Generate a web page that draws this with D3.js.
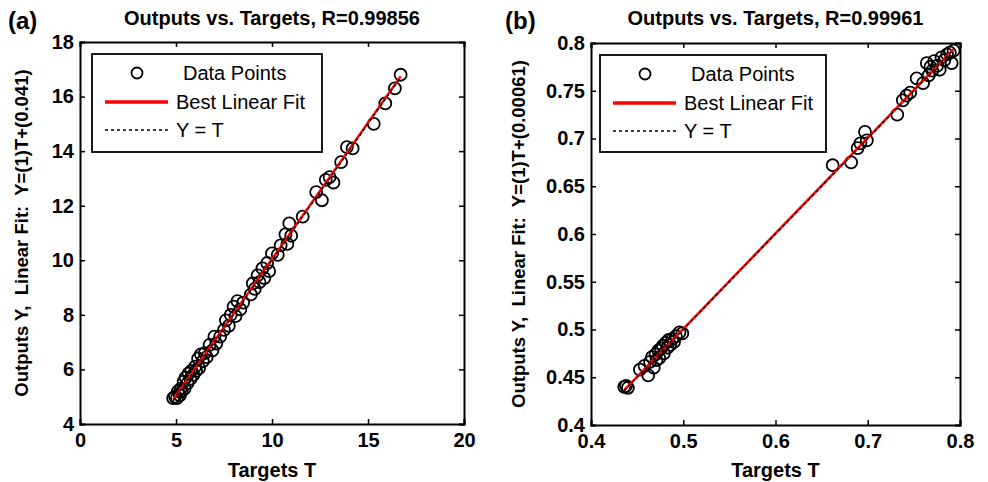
<!DOCTYPE html>
<html><head><meta charset="utf-8">
<script src="https://cdn.jsdelivr.net/npm/d3@7"></script>
<style>body{margin:0;background:#fff}svg{display:block}text{font-family:Arial,"Liberation Sans",sans-serif;fill:#000;white-space:pre}</style>
</head><body><svg id="c" width="988" height="482"></svg>
<script>
const targetsA=[4.85,4.95,5.05,5.1,5.2,5.25,5.3,5.4,5.45,5.5,5.6,5.65,5.75,5.8,5.9,6.0,6.05,6.15,6.2,6.3,6.4,6.5,6.6,6.75,6.9,7.0,7.1,7.3,7.5,7.6,7.75,7.85,8.0,8.1,8.2,8.35,8.5,8.9,9.0,9.1,9.25,9.35,9.5,9.6,9.75,9.85,10.0,10.3,10.45,10.7,10.8,10.9,11.0,11.6,12.3,12.6,12.8,13.0,13.2,13.6,13.9,14.2,15.3,15.9,16.4,16.7];
const outputsA=[4.95,5.0,4.95,5.2,5.05,5.3,5.2,5.55,5.3,5.7,5.5,5.85,5.65,5.95,5.8,6.1,5.95,6.4,6.05,6.55,6.3,6.6,6.45,6.9,6.7,7.2,6.95,7.2,7.45,7.8,7.6,8.0,8.3,7.95,8.5,8.2,8.45,8.75,9.15,8.95,9.45,9.2,9.7,9.35,9.9,9.6,10.25,10.2,10.55,10.95,10.6,11.35,10.9,11.6,12.5,12.2,12.95,13.05,12.85,13.6,14.15,14.1,15.0,15.75,16.3,16.8];
const targetsB=[0.436,0.438,0.440,0.453,0.458,0.462,0.464,0.466,0.468,0.470,0.471,0.473,0.474,0.476,0.478,0.479,0.481,0.483,0.484,0.486,0.488,0.490,0.492,0.496,0.499,0.662,0.682,0.689,0.692,0.697,0.699,0.732,0.738,0.742,0.746,0.753,0.760,0.764,0.766,0.768,0.770,0.772,0.775,0.778,0.780,0.783,0.786,0.789,0.791,0.793];
const outputsB=[0.440,0.441,0.439,0.458,0.462,0.452,0.466,0.471,0.460,0.474,0.468,0.478,0.470,0.480,0.483,0.475,0.486,0.481,0.489,0.484,0.490,0.487,0.493,0.497,0.496,0.672,0.675,0.690,0.695,0.707,0.698,0.725,0.740,0.745,0.748,0.763,0.758,0.779,0.766,0.775,0.771,0.781,0.776,0.772,0.785,0.782,0.788,0.790,0.779,0.792];
const xTicksA=[0,5,10,15,20], yTicksA=[4,6,8,10,12,14,16,18];
const xTicksB=[0.4,0.5,0.6,0.7,0.8], yTicksB=[0.4,0.45,0.5,0.55,0.6,0.65,0.7,0.75,0.8];
const legendLabels=["Data Points","Best Linear Fit","Y = T"];

const panels=[
 {tag:"(a)",title:"Outputs vs. Targets, R=0.99856",ylab:"Outputs Y,  Linear Fit:  Y=(1)T+(0.041)",
  T:targetsA,Y:outputsA,m:1,b:0.041,xd:[0,20],yd:[4,18],xt:xTicksA,yt:yTicksA,
  box:{l:80,r:464,t:42,b:424},tagX:8,ylabX:22,leg:{x:92,y:54,w:230,h:98}},
 {tag:"(b)",title:"Outputs vs. Targets, R=0.99961",ylab:"Outputs Y,  Linear Fit:  Y=(1)T+(0.00061)",
  T:targetsB,Y:outputsB,m:1,b:0.00061,xd:[0.4,0.8],yd:[0.4,0.8],xt:xTicksB,yt:yTicksB,
  box:{l:591,r:960,t:43,b:425},tagX:505,ylabX:519,leg:{x:600,y:55,w:226,h:97}}
];
const svg=d3.select("#c");
panels.forEach(p=>{
 const g=svg.append("g");
 const x=d3.scaleLinear().domain(p.xd).range([p.box.l,p.box.r]);
 const y=d3.scaleLinear().domain(p.yd).range([p.box.b,p.box.t]);
 const fmt=d=>String(+d.toFixed(3));
 const ax=[
  [d3.axisBottom(x).tickValues(p.xt).tickSize(-5).tickPadding(9).tickFormat(fmt),`translate(0,${p.box.b})`],
  [d3.axisLeft(y).tickValues(p.yt).tickSize(-5).tickPadding(6).tickFormat(fmt),`translate(${p.box.l},0)`],
  [d3.axisTop(x).tickValues(p.xt).tickSize(-5).tickFormat(""),`translate(0,${p.box.t})`],
  [d3.axisRight(y).tickValues(p.yt).tickSize(-5).tickFormat(""),`translate(${p.box.r},0)`]];
 ax.forEach(([a,tr])=>{
  const gg=g.append("g").attr("transform",tr).call(a);
  gg.select(".domain").attr("stroke","#000").attr("stroke-width",2);
  gg.selectAll(".tick line").attr("stroke","#000").attr("stroke-width",1.5);
  gg.selectAll(".tick text").attr("font-size",20).attr("font-weight","bold").attr("font-family","Arial, 'Liberation Sans', sans-serif").attr("fill","#000");
 });
 const pts=p.T.map((t,i)=>({t,y:p.Y[i]}));
 g.append("g").selectAll("circle").data(pts).join("circle")
  .attr("cx",d=>x(d.t)).attr("cy",d=>y(d.y)).attr("r",6)
  .attr("fill","none").attr("stroke","#000").attr("stroke-width",1.8);
 const tmin=d3.min(p.T), tmax=d3.max(p.T);
 g.append("line").attr("x1",x(tmin)).attr("y1",y(p.m*tmin+p.b)).attr("x2",x(tmax)).attr("y2",y(p.m*tmax+p.b))
  .attr("stroke","#ff0000").attr("stroke-width",2.5);
 g.append("line").attr("x1",x(tmin)).attr("y1",y(tmin)).attr("x2",x(tmax)).attr("y2",y(tmax))
  .attr("stroke","#000").attr("stroke-width",1.3).attr("stroke-dasharray","3,3");
 g.append("text").attr("x",(p.box.l+p.box.r)/2).attr("y",25).attr("text-anchor","middle")
  .attr("font-size",20).attr("font-weight","bold").text(p.title);
 g.append("text").attr("x",p.tagX).attr("y",29).attr("font-size",24).attr("font-weight","bold").text(p.tag);
 g.append("text").attr("x",(p.box.l+p.box.r)/2).attr("y",477).attr("text-anchor","middle")
  .attr("font-size",20).attr("font-weight","bold").text("Targets T");
 g.append("text").attr("transform",`translate(${p.ylabX},${(p.box.t+p.box.b)/2}) rotate(-90)`).attr("dy","0.35em")
  .attr("text-anchor","middle").attr("font-size",18.5).attr("font-weight","bold").text(p.ylab);
 const L=p.leg;
 const lg=g.append("g");
 lg.append("rect").attr("x",L.x).attr("y",L.y).attr("width",L.w).attr("height",L.h).attr("fill","#fff").attr("stroke","#000").attr("stroke-width",1.8);
 const rowY=[L.y+19,L.y+48,L.y+76];
 lg.append("circle").attr("cx",L.x+45).attr("cy",rowY[0]).attr("r",5.5).attr("fill","none").attr("stroke","#000").attr("stroke-width",1.8);
 lg.append("line").attr("x1",L.x+13).attr("x2",L.x+76).attr("y1",rowY[1]).attr("y2",rowY[1]).attr("stroke","#ff0000").attr("stroke-width",3.5);
 lg.append("line").attr("x1",L.x+13).attr("x2",L.x+76).attr("y1",rowY[2]).attr("y2",rowY[2]).attr("stroke","#000").attr("stroke-width",1.5).attr("stroke-dasharray","3,3");
 legendLabels.forEach((t,i)=>{
  lg.append("text").attr("x",i===0?L.x+91:L.x+84).attr("y",rowY[i]).attr("dy","0.36em").attr("font-size",20).text(t);
 });
});
</script></body></html>
